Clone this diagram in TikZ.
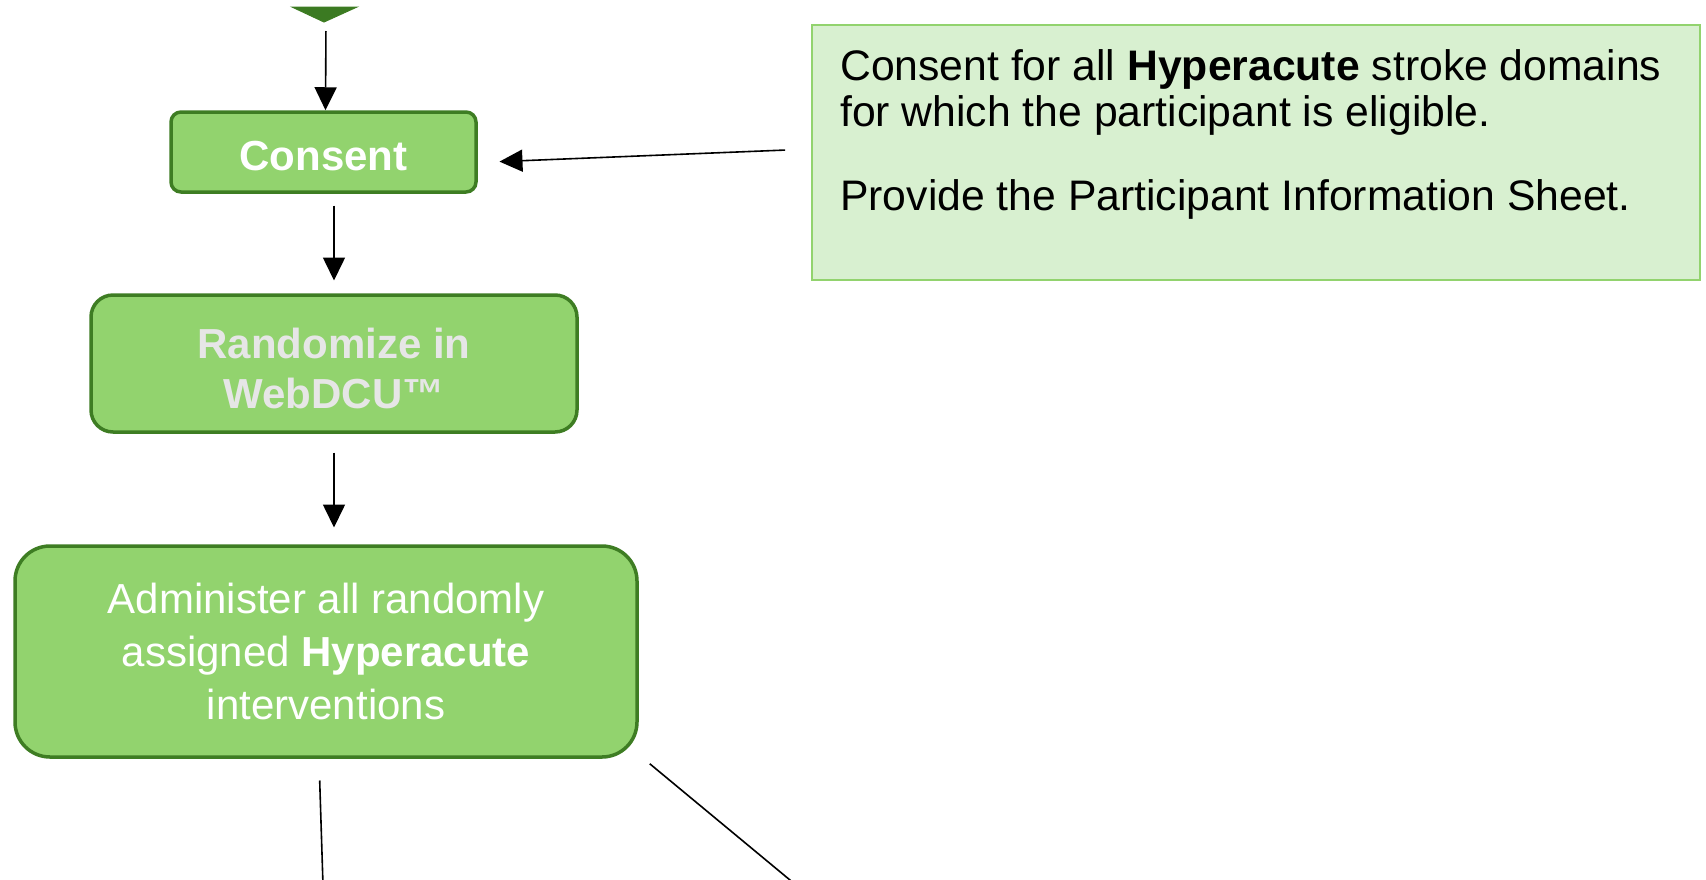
\documentclass[tikz,border=0pt]{standalone}
\usepackage{fontspec}
\setmainfont{Liberation Sans}
\usetikzlibrary{arrows.meta}
\definecolor{boxfill}{HTML}{92D36E}
\definecolor{boxline}{HTML}{3E7D23}
\definecolor{trifill}{HTML}{3B7A22}
\definecolor{notefill}{HTML}{D8F0D0}
\definecolor{greytext}{HTML}{E6E6E6}

\begin{document}
\begin{tikzpicture}[x=1pt,y=-1pt,
   box/.style={draw=boxline,fill=boxfill,line width=3.5pt,align=center,text=white,
      font=\fontsize{42}{53}\selectfont},
   note/.style={draw=boxfill,fill=notefill,line width=2pt,minimum width=888pt,minimum height=255pt},
   arr/.style={-{Triangle[length=23pt,width=22pt]},line width=1.6pt},
   link/.style={line width=1.6pt}]
   \useasboundingbox (0,0) rectangle (1706,879);
   \clip (0,0) rectangle (1706,879);
   \coordinate (t) at (324,22);
   \filldraw[fill=trifill,draw=boxline,line width=1pt] (292,7) -- (357,7) -- (t) -- cycle;
   \node[box,rounded corners=10pt,minimum width=305pt,minimum height=80pt,text height=37pt,text depth=0pt] (a) at (323.5,152) {\textbf{Consent}};
   \node[box,rounded corners=22pt,minimum width=486pt,minimum height=137pt,text=greytext,font=\fontsize{42}{50}\selectfont,text height=90pt,text depth=0pt] (b) at (334,363.5) {\textbf{Randomize in}\\\textbf{WebDCU™}};
   \node[box,rounded corners=35pt,minimum width=622pt,minimum height=211pt] (c) at (326,651.5) {Administer all randomly\\assigned \textbf{Hyperacute}\\interventions};
   \node[note] (n) at (1256,152.5) {};
   \node[anchor=north west,align=left,inner sep=0pt,font=\fontsize{42.7}{46}\selectfont] (m) at ([xshift=29,yshift=-25]n.north west) {Consent for all \textbf{Hyperacute} stroke domains\\for which the participant is eligible.\\[38.5pt]Provide the Participant Information Sheet.};
   \coordinate (d) at (323,885);
   \coordinate (e) at (796,885);
   \draw[arr,shorten <=9pt] ([xshift=2]t) -- ([xshift=2]a.north);
   \draw[arr,shorten <=11.75pt,shorten >=12.75pt] ([xshift=10.5]a.south) -- (b.north);
   \draw[arr,shorten <=18.75pt,shorten >=16.75pt] (b.south) -- ([xshift=8]c.north);
   \draw[arr,shorten <=26pt,shorten >=21.75pt] ([yshift=3.5]n.west) -- ([yshift=-10.5]a.east);
   \draw[link,shorten <=21.75pt] ([xshift=-7]c.south) -- (d);
   \draw[link] ([xshift=11,yshift=-5]c.south east) -- (e);
\end{tikzpicture}
\end{document}
